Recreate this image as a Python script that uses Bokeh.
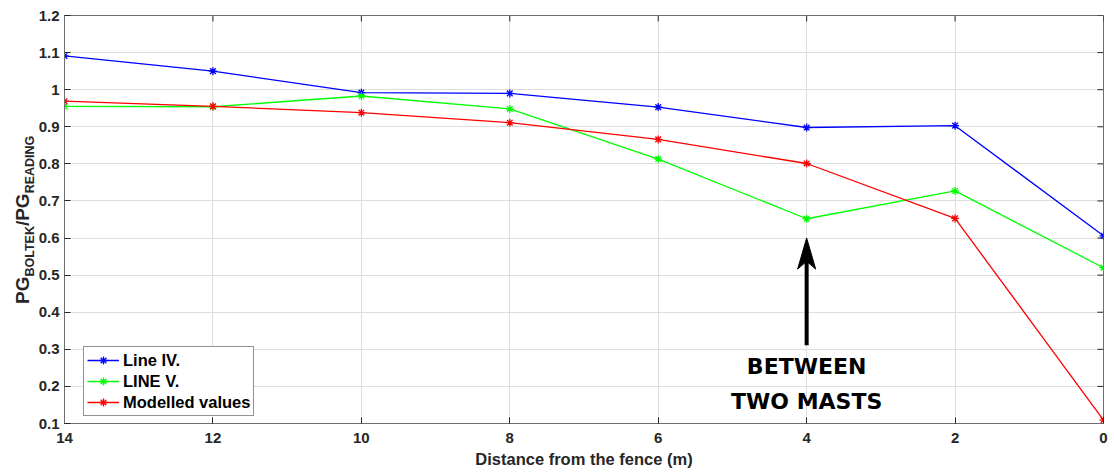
from bokeh.embed import file_html
from bokeh.layouts import row
from bokeh.models import (Div, FixedTicker, Label, Legend, LegendItem,
                          NumeralTickFormatter, Range1d)
from bokeh.plotting import figure
from bokeh.resources import INLINE

# ---- data -----------------------------------------------------------------
distance = [14, 12, 10, 8, 6, 4, 2, 0]
line_iv = [1.091, 1.050, 0.992, 0.990, 0.953, 0.898, 0.903, 0.606]
line_v = [0.955, 0.954, 0.983, 0.948, 0.813, 0.652, 0.727, 0.520]
modelled = [0.969, 0.955, 0.938, 0.911, 0.866, 0.801, 0.653, 0.109]

series_names = ["Line IV.", "LINE V.", "Modelled values"]
series_values = [line_iv, line_v, modelled]
series_colors = ["#0000ff", "#00ff00", "#ff0000"]

x_ticks = [14, 12, 10, 8, 6, 4, 2, 0]
y_ticks = [0.1, 0.2, 0.3, 0.4, 0.5, 0.6, 0.7, 0.8, 0.9, 1.0, 1.1, 1.2]

x_title = "Distance from the fence (m)"
y_title_parts = [("PG", False), ("BOLTEK", True), ("/PG", False), ("READING", True)]
note_lines = ["BETWEEN", "TWO MASTS"]
note_x = 4

# ---- layout constants ---------------------------------------------------------
FONT = "Liberation Sans"
AX = "#262626"
X0, X1, Y0, Y1 = 14, 0, 0.1, 1.2
TITLE_W = 35                      # strip on the left that holds the y title
FIG_W, FIG_H = 1114 - TITLE_W, 473
FRAME_W, FRAME_H = 1039, 408
BORDER_TOP = 15
px_x = (X0 - X1) / FRAME_W        # data units per pixel, x
px_y = (Y1 - Y0) / FRAME_H        # data units per pixel, y

p = figure(width=FIG_W, height=FIG_H, output_backend="svg", toolbar_location=None,
           x_range=Range1d(X0, X1), y_range=Range1d(Y0, Y1),
           min_border_left=64 - TITLE_W, min_border_right=11,
           min_border_top=BORDER_TOP, min_border_bottom=50,
           background_fill_color="white", border_fill_color="white")
p.outline_line_color = "#6e6e6e"
p.outline_line_width = 1

xt = FixedTicker(ticks=x_ticks)
yt = FixedTicker(ticks=y_ticks)

for ax in (p.xaxis[0], p.yaxis[0]):
    ax.axis_line_color = "#6e6e6e"
    ax.major_tick_line_color = AX
    ax.major_tick_in = 6
    ax.major_tick_out = 0
    ax.minor_tick_line_color = None
    ax.major_label_text_font = FONT
    ax.major_label_text_font_style = "bold"
    ax.major_label_text_color = AX
    ax.major_label_text_font_size = "15px"

p.xaxis.ticker = xt
p.yaxis.ticker = yt
p.yaxis.formatter = NumeralTickFormatter(format="0.[0]")
p.xaxis.major_label_standoff = 9
p.yaxis.major_label_standoff = 5
p.xaxis.axis_label = x_title
p.xaxis.axis_label_text_font = FONT
p.xaxis.axis_label_text_font_style = "bold"
p.xaxis.axis_label_text_font_size = "16.5px"
p.xaxis.axis_label_text_color = AX
p.xaxis.axis_label_standoff = 4

# inward ticks along the top and right edges of the box
tick_px = 6
p.segment(x0=x_ticks, y0=[Y1] * len(x_ticks), x1=x_ticks,
          y1=[Y1 - tick_px * px_y] * len(x_ticks), line_color=AX, line_width=1)
p.segment(x0=[X1] * len(y_ticks), y0=y_ticks, x1=[X1 + tick_px * px_x] * len(y_ticks),
          y1=y_ticks, line_color=AX, line_width=1)

p.xgrid.ticker = xt
p.ygrid.ticker = yt
for g in (p.xgrid[0], p.ygrid[0]):
    g.grid_line_color = "#dedede"
    g.grid_line_width = 1

# ---- series -------------------------------------------------------------------
items = []
for name, vals, col in zip(series_names, series_values, series_colors):
    ln = p.line(distance, vals, line_color=col, line_width=1.3)
    mk = p.scatter(distance, vals, marker="asterisk", size=8,
                   line_color=col, line_width=1.3)
    items.append(LegendItem(label=name, renderers=[ln, mk]))

legend = Legend(items=items, location=(19, 7),
                label_text_font=FONT, label_text_font_style="bold",
                label_text_font_size="16.5px", label_text_color="#000000",
                glyph_width=32, glyph_height=20, label_height=20,
                label_standoff=4, spacing=1, padding=3, margin=0,
                border_line_color=AX, border_line_width=1,
                background_fill_color="white", background_fill_alpha=1)
p.add_layout(legend)

# ---- annotation: arrow and note ----------------------------------------------
tip_y = 0.600
tail_y = 0.311
head_len, head_notch, head_half = 31, 25, 9
p.segment(x0=[note_x], y0=[tail_y], x1=[note_x], y1=[tip_y - head_notch * px_y],
          line_color="black", line_width=4)
p.patch(x=[note_x, note_x + head_half * px_x, note_x + 2 * px_x, note_x - 2 * px_x,
           note_x - head_half * px_x],
        y=[tip_y, tip_y - head_len * px_y, tip_y - head_notch * px_y,
           tip_y - head_notch * px_y, tip_y - head_len * px_y],
        fill_color="black", line_color="black", line_width=1)

for txt, yv in zip(note_lines, [0.254, 0.160]):
    p.add_layout(Label(x=note_x, y=yv, text=txt, text_align="center",
                       text_baseline="middle", text_font="DejaVu Sans",
                       text_font_style="bold", text_font_size="22px",
                       text_color="black"))

# ---- y-axis title with subscripts, set vertically in a strip on the left --------
MAIN, SUB, SUB_DROP = 19, 12.5, 5
# Liberation Sans Bold advance widths (per 1000 em), used to centre the title
adv = {"P": 667, "G": 778, "B": 722, "O": 778, "L": 611, "T": 611, "E": 667,
       "K": 722, "/": 278, "R": 722, "A": 722, "D": 722, "I": 278, "N": 722}
title_len = sum(sum(adv[c] for c in t) / 1000 * (SUB if s else MAIN)
                for t, s in y_title_parts)
start_y = BORDER_TOP + FRAME_H / 2 + title_len / 2     # where the text begins
spans = "".join(
    f'<span style="font-size:{SUB}px;vertical-align:-{SUB_DROP}px">{t}</span>' if s
    else f"<span>{t}</span>"
    for t, s in y_title_parts)
title_html = (
    f'<div style="position:absolute;left:13px;top:{start_y:.1f}px;'
    f"transform:rotate(-90deg);transform-origin:0 0;white-space:nowrap;"
    f"font-family:'{FONT}';font-weight:bold;font-size:{MAIN}px;line-height:{MAIN}px;"
    f'color:{AX}">{spans}</div>')
y_title = Div(text=title_html, width=TITLE_W, height=FIG_H,
              styles={"position": "relative", "overflow": "visible",
                      "background-color": "white", "margin": "0", "padding": "0"})

layout = row(y_title, p, spacing=0)

open("out.html", "w").write(file_html(layout, INLINE))
